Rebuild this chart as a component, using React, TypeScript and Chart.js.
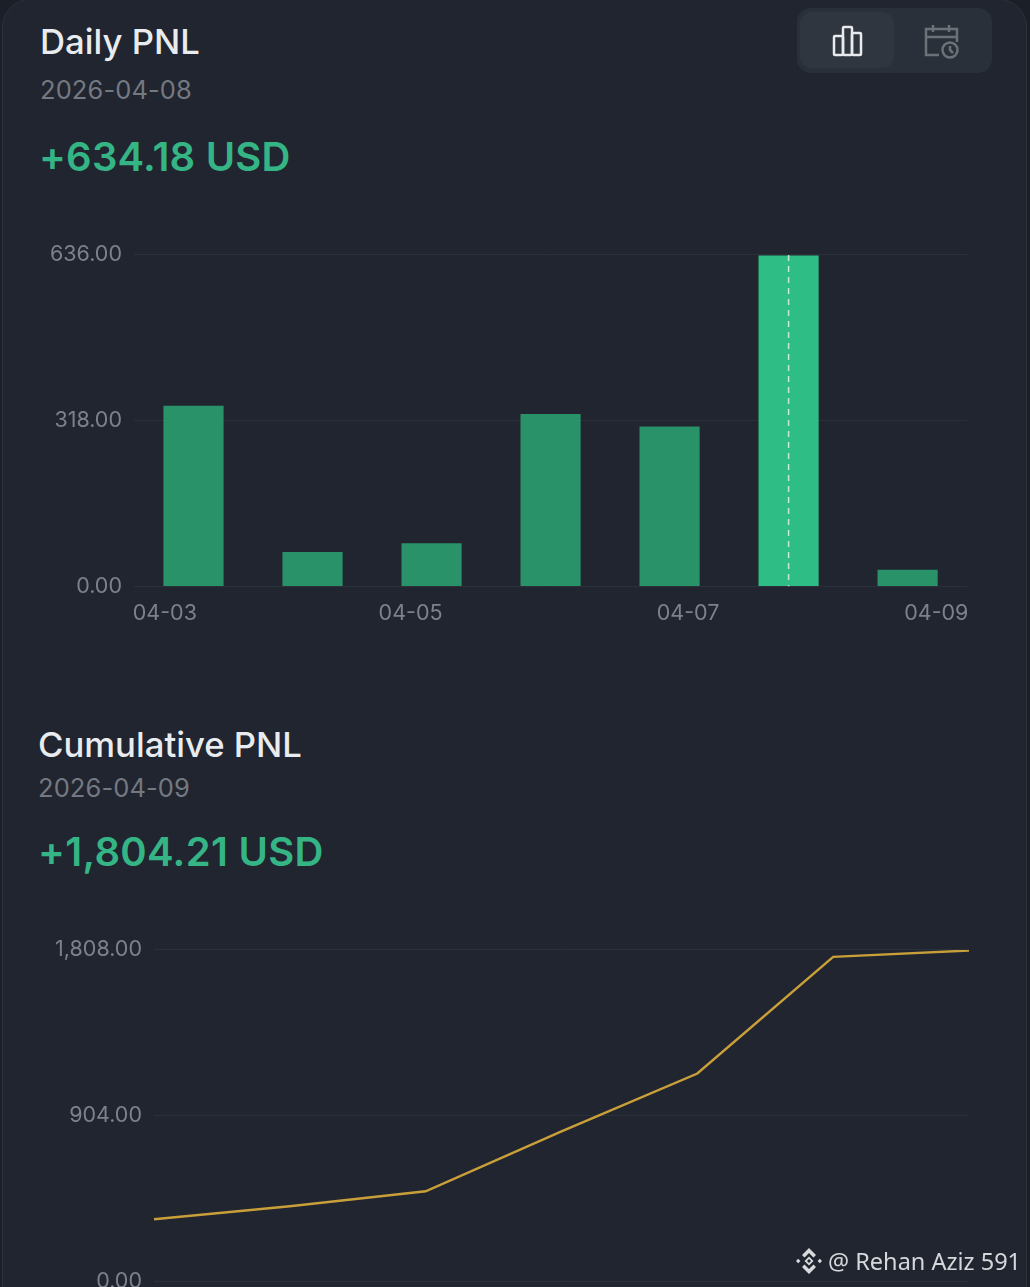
import React, { useEffect, useRef } from "react";
import { Chart, registerables } from "chart.js";

Chart.register(...registerables);

const dailyDates = ["04-03", "04-04", "04-05", "04-06", "04-07", "04-08", "04-09"];
const dailyValues = [346, 65, 82, 330, 306, 634.18, 31];
const selectedIndex = 5;
const dailyTicks = [0, 318, 636];
const dailyAxisLabels = ["04-03", "04-05", "04-07", "04-09"];
const dailyAxisFractions = [0.037, 0.332, 0.665, 0.963];

const cumulativeDates = ["04-03", "04-04", "04-05", "04-06", "04-07", "04-08", "04-09"];
const cumulativeValues = [338, 408, 490, 817, 1133, 1770, 1804.21];
const cumulativeTicks = [0, 904, 1808];

const FONT = "Inter, 'Liberation Sans', sans-serif";
const BG = "#20252f";
const GRID = "#2b303a";
const TICK = "#7d828a";

const fmt = (v: number) =>
  v.toLocaleString("en-US", { minimumFractionDigits: 2, maximumFractionDigits: 2 });

const crosshair = {
  id: "crosshair",
  afterDatasetsDraw(chart: any) {
    const { ctx, chartArea, scales } = chart;
    const x = scales.x.getPixelForValue(selectedIndex);
    ctx.save();
    ctx.strokeStyle = "rgba(235,245,240,0.8)";
    ctx.lineWidth = 1.5;
    ctx.setLineDash([6, 5]);
    ctx.beginPath();
    ctx.moveTo(x, chartArea.top);
    ctx.lineTo(x, chartArea.bottom);
    ctx.stroke();
    ctx.restore();
  },
};

function yAxis(ticks: number[], width: number) {
  return {
    min: ticks[0],
    max: ticks[ticks.length - 1],
    afterBuildTicks: (s: any) => {
      s.ticks = ticks.map((value) => ({ value }));
    },
    afterFit: (s: any) => {
      s.width = width;
    },
    border: { display: false },
    grid: { color: GRID, lineWidth: 1, drawTicks: false },
    ticks: {
      color: TICK,
      font: { family: FONT, size: 21.5 },
      padding: 12,
      labelOffset: 0,
      callback: (v: any) => fmt(Number(v)),
    },
  };
}

function DailyChart() {
  const ref = useRef<HTMLCanvasElement>(null);
  useEffect(() => {
    const chart = new Chart(ref.current!, {
      type: "bar",
      data: {
        labels: dailyDates,
        datasets: [
          {
            data: dailyValues,
            xAxisID: "x",
            yAxisID: "y",
            barThickness: 59.5,
            backgroundColor: dailyValues.map((_, i) => (i === selectedIndex ? "#2ebd85" : "#2a9269")),
          },
        ],
      },
      options: {
        animation: false,
        responsive: false,
        devicePixelRatio: 1,
        layout: { padding: 0 },
        plugins: { legend: { display: false }, tooltip: { enabled: false } },
        scales: {
          x: {
            type: "category",
            display: true,
            border: { display: false },
            grid: { display: false },
            ticks: { display: false },
            afterFit: (s: any) => {
              s.height = 0;
            },
          },
          xl: {
            type: "linear",
            position: "bottom",
            offset: false,
            min: 0,
            max: 1,
            afterBuildTicks: (s: any) => {
              s.ticks = dailyAxisFractions.map((value) => ({ value }));
            },
            border: { display: false },
            grid: { display: false, drawTicks: false, offset: false },
            ticks: {
              autoSkip: false,
              maxRotation: 0,
              color: TICK,
              font: { family: FONT, size: 21.5 },
              padding: 14,
              callback: (_: any, i: number) => dailyAxisLabels[i],
            },
          },
          y: yAxis(dailyTicks, 134),
        },
      } as any,
      plugins: [crosshair],
    });
    return () => chart.destroy();
  }, []);
  return (
    <canvas
      ref={ref}
      width={983}
      height={410}
      style={{ position: "absolute", left: 0, top: 230, width: 983, height: 410 }}
    />
  );
}

function CumulativeChart() {
  const ref = useRef<HTMLCanvasElement>(null);
  useEffect(() => {
    const chart = new Chart(ref.current!, {
      type: "line",
      data: {
        labels: cumulativeDates,
        datasets: [
          {
            data: cumulativeValues,
            borderColor: "#c99f3a",
            borderWidth: 2.5,
            pointRadius: 0,
            tension: 0,
          },
        ],
      },
      options: {
        animation: false,
        responsive: false,
        devicePixelRatio: 1,
        layout: { padding: 0 },
        plugins: { legend: { display: false }, tooltip: { enabled: false } },
        scales: {
          x: {
            type: "category",
            offset: false,
            border: { display: false },
            grid: { display: false },
            ticks: { display: false },
            afterFit: (s: any) => {
              s.height = 0;
            },
          },
          y: yAxis(cumulativeTicks, 154),
        },
      } as any,
    });
    return () => chart.destroy();
  }, []);
  return (
    <canvas
      ref={ref}
      width={969}
      height={381}
      style={{ position: "absolute", left: 0, top: 925, width: 969, height: 381 }}
    />
  );
}

const text = (
  left: number,
  top: number,
  size: number,
  color: string,
  weight: number,
  content: string,
  letterSpacing = 0
) => (
  <div
    style={{
      position: "absolute",
      left,
      top,
      fontFamily: FONT,
      fontSize: size,
      lineHeight: `${size + 6}px`,
      color,
      fontWeight: weight,
      letterSpacing,
      whiteSpace: "nowrap",
    }}
  >
    {content}
  </div>
);

export default function App() {
  useEffect(() => {
    document.body.style.margin = "0";
    document.body.style.background = "#1b1f28";
  }, []);
  return (
    <div
      style={{
        position: "relative",
        width: 1030,
        height: 1287,
        overflow: "hidden",
        background: "#1b1f28",
      }}
    >
      <div
        style={{
          position: "absolute",
          left: 2,
          top: -1,
          width: 1025,
          height: 1320,
          boxSizing: "border-box",
          background: BG,
          borderRadius: 28,
          border: "1px solid #2c313b",
        }}
      />
      {text(40, 21, 34.7, "#e9ecef", 500, "Daily PNL")}
      {text(40, 74, 25.5, "#747981", 400, "2026-04-08", 0.1)}
      {text(39, 134, 40, "#35b585", 600, "+634.18 USD", 0.2)}

      <div
        style={{
          position: "absolute",
          left: 797,
          top: 8,
          width: 195,
          height: 65,
          background: "#293039",
          borderRadius: 14,
        }}
      />
      <div
        style={{
          position: "absolute",
          left: 800,
          top: 12,
          width: 94,
          height: 56,
          background: "#30363f",
          borderRadius: 12,
        }}
      />
      <svg
        style={{ position: "absolute", left: 829, top: 22 }}
        width={40}
        height={38}
        viewBox="0 0 40 38"
        fill="none"
        stroke="#e8eaed"
        strokeWidth={2.5}
      >
        <rect x={5} y={14} width={9} height={19} rx={1} />
        <rect x={14} y={5} width={9} height={28} rx={1} />
        <rect x={23} y={11} width={9} height={22} rx={1} />
      </svg>
      <svg
        style={{ position: "absolute", left: 920, top: 22 }}
        width={42}
        height={38}
        viewBox="0 0 42 38"
        fill="none"
        stroke="#6c7178"
        strokeWidth={2.5}
      >
        <path d="M19 33H6V7h31v13M6 15h31M13 3v7M29 3v7" />
        <circle cx={30} cy={28} r={7.5} />
        <path d="M30 24v4l3 3" />
      </svg>

      <DailyChart />

      {text(38, 724, 34.7, "#e9ecef", 500, "Cumulative PNL")}
      {text(38, 772, 25.5, "#747981", 400, "2026-04-09", 0.1)}
      {text(38, 829, 40, "#35b585", 600, "+1,804.21 USD", 0.3)}

      <CumulativeChart />

      <svg
        style={{ position: "absolute", left: 795, top: 1247 }}
        width={28}
        height={28}
        viewBox="0 0 28 28"
        fill="#d8dadd"
      >
        <path d="M14 1l7 7-2.5 2.5L14 6l-4.5 4.5L7 8z" />
        <path d="M14 27l7-7-2.5-2.5L14 22l-4.5-4.5L7 20z" />
        <path fillRule="evenodd" d="M14 9.5l4.5 4.5-4.5 4.5L9.5 14zM14 12l-2 2 2 2 2-2z" />
        <path d="M1 14l2.2-2.2L5.4 14l-2.2 2.2zM22.6 14l2.2-2.2L27 14l-2.2 2.2z" />
      </svg>
      <div
        style={{
          position: "absolute",
          left: 828,
          top: 1245,
          fontFamily: "'Noto Sans', sans-serif",
          fontSize: 23.5,
          lineHeight: "32px",
          color: "#d5d7da",
          whiteSpace: "nowrap",
        }}
      >
        @ Rehan Aziz 591
      </div>
    </div>
  );
}
